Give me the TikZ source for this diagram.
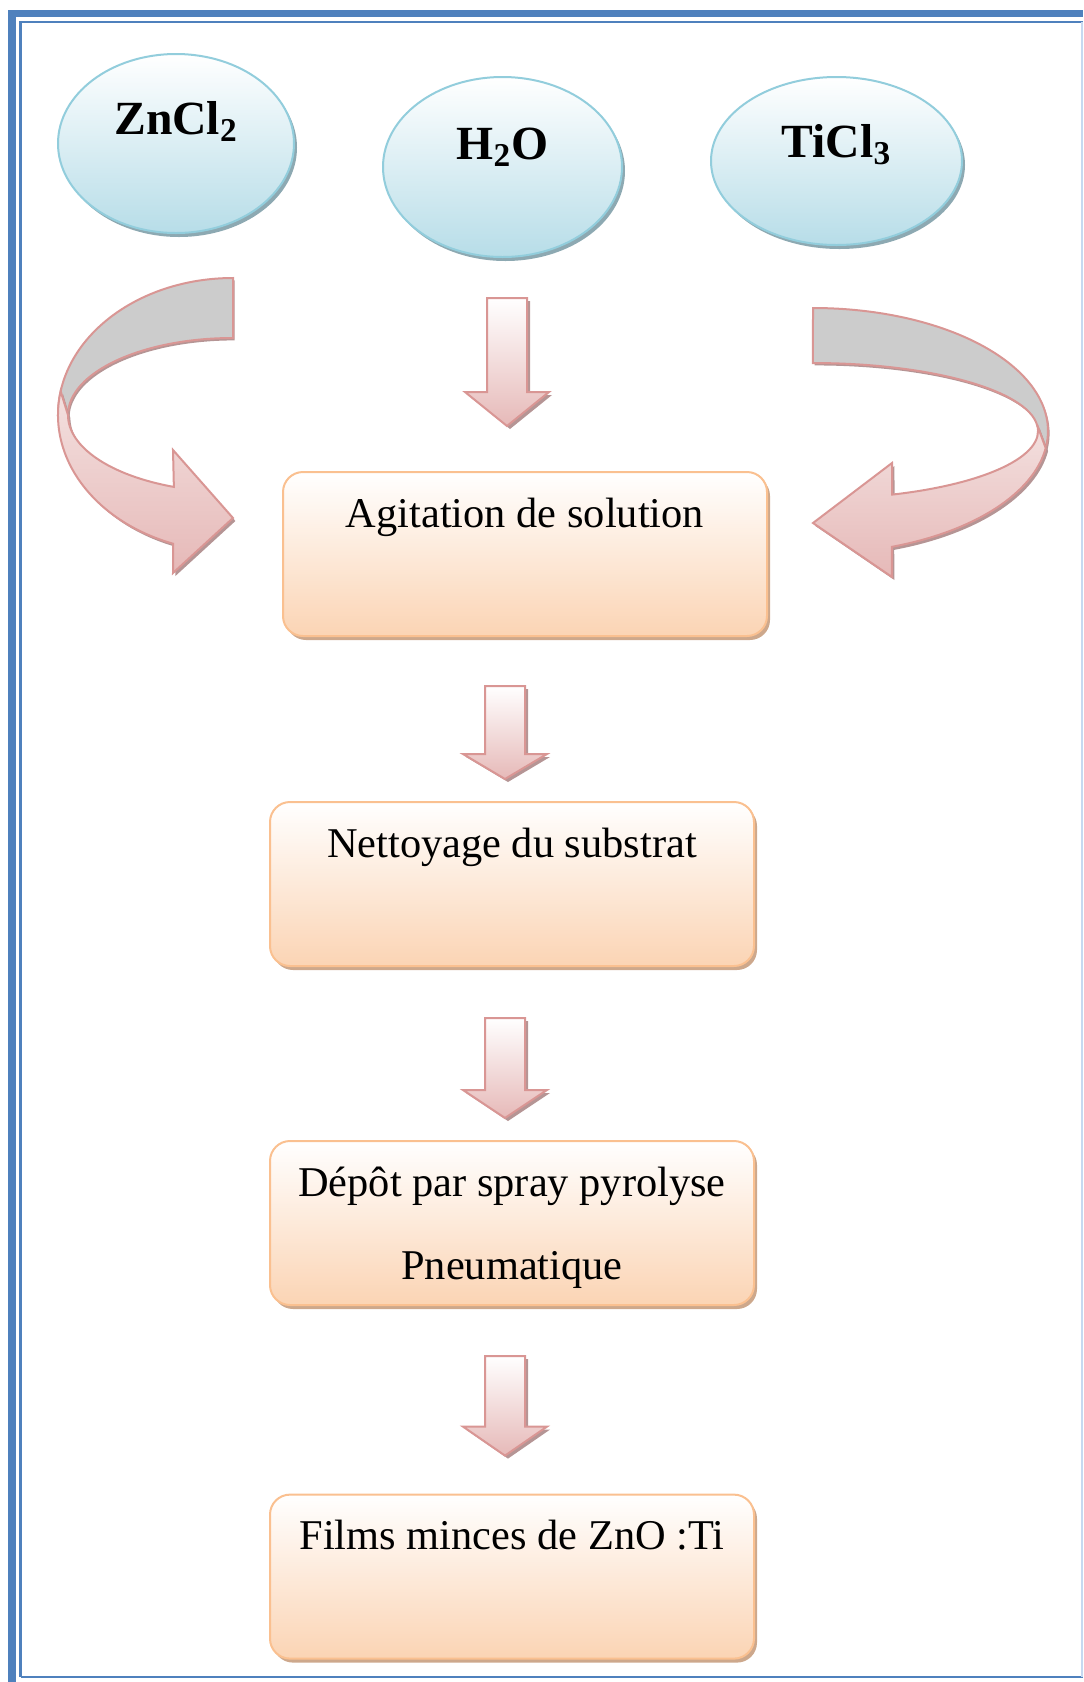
\documentclass[tikz,border=0pt]{standalone}
\usepackage{fontspec}
\setmainfont{Liberation Serif}
\usetikzlibrary{positioning, shapes.geometric, shadows, calc}
\definecolor{framebl}{HTML}{4F81BD}
\definecolor{framelt}{HTML}{C6D9F1}
\definecolor{ellline}{HTML}{92CDDC}
\definecolor{ellbot}{HTML}{B7DDE8}
\definecolor{ellshadow}{HTML}{8DA9B2}
\definecolor{boxline}{HTML}{FAC090}
\definecolor{boxbot}{HTML}{FBD4B4}
\definecolor{boxshadow}{HTML}{CDA88C}
\definecolor{arrline}{HTML}{D99694}
\definecolor{arrbot}{HTML}{E6B9B8}
\definecolor{arrshadow}{HTML}{B59595}
\definecolor{bandtop}{HTML}{F3E0DF}
\definecolor{bandgray}{HTML}{CCCCCC}
\tikzset{
  frameline/.style={draw=framebl,line width=3.75pt},
  framethin/.style={draw=framebl,line width=1.4pt},
  source/.style={ellipse,draw=ellline,line width=1pt,top color=white,bottom color=ellbot,inner sep=0pt,
    font=\fontsize{23.8}{28}\selectfont\bfseries,text height=16pt,text depth=25pt,
    drop shadow={shadow xshift=1.5pt,shadow yshift=-2pt,fill=ellshadow,opacity=1}},
  box/.style={rectangle,draw=boxline,line width=1pt,rounded corners=10pt,top color=white,bottom color=boxbot,
    minimum width=242pt,minimum height=82pt,inner sep=0pt,align=center,
    font=\fontsize{21.2}{41.5}\selectfont,text height=15pt,text depth=42pt,
    drop shadow={shadow xshift=1.5pt,shadow yshift=-2pt,fill=boxshadow,opacity=1}},
  blockdown/.style={draw=arrline,line width=1pt,top color=white,bottom color=arrbot,
    drop shadow={shadow xshift=1.5pt,shadow yshift=-1.5pt,fill=arrshadow,opacity=1},
    to path={let \p1=(\tikztostart), \p2=(\tikztotarget) in
      (\x1-10pt,\y1) -- (\x1+10pt,\y1) -- (\x1+10pt,\y2+#1) -- (\x1+21pt,\y2+#1) -- (\x1,\y2)
      -- (\x1-21pt,\y2+#1) -- (\x1-10pt,\y2+#1) -- cycle}},
  backband/.style={draw=arrline,line width=1pt,fill=bandgray,
    drop shadow={shadow xshift=0.8pt,shadow yshift=-1.2pt,fill=arrshadow,opacity=1}},
  frontband/.style={draw=arrline,line width=1pt,top color=bandtop,bottom color=arrbot,
    drop shadow={shadow xshift=1.2pt,shadow yshift=-1.5pt,fill=arrshadow,opacity=1}}
}

\begin{document}
\begin{tikzpicture}[x=0.5pt,y=-0.5pt]
\useasboundingbox (0,0) rectangle (1083,1682);
\draw[frameline] (12,1682) -- (12,13.5) -- (1083,13.5);
\draw[framethin] (20.5,1677) -- (20.5,22) -- (1083,22);
\draw[framethin] (20.5,1677) -- (1083,1677);
\draw[draw=framelt,line width=1pt] (1082,22) -- (1082,1677);

\node[source,minimum width=118pt,minimum height=89.5pt] (zncl) at (176,143.5) {ZnCl\textsubscript{2}};
\node[source,minimum width=119.5pt,minimum height=90pt,text depth=24pt] (hwater) at (502.5,167) {H\textsubscript{2}O};
\node[source,minimum width=125.5pt,minimum height=84pt,text depth=20pt] (ticl) at (836.5,161) {TiCl\textsubscript{3}};

\node[box] (agit) at (525,554) {Agitation de solution};
\node[box,below=82pt of agit,xshift=-6.5pt] (nett) {Nettoyage du substrat};
\node[box,below=86.5pt of nett,text height=58pt,text depth=2pt] (depot) {Dépôt par spray pyrolyse\\Pneumatique};
\node[box,below=93.8pt of depot] (films) {Films minces de ZnO :Ti};

\draw[backband] (233,278) arc[start angle=270,end angle=180,x radius=175,y radius=137]
  -- (68,415) arc[start angle=180,end angle=270,x radius=165,y radius=77] -- cycle;
\draw[frontband] (60.66,391.2) arc[start angle=190,end angle=110,x radius=175,y radius=137]
  -- (173,573) -- (233,518) -- (173,450)
  -- (173.87,486.9) arc[start angle=111,end angle=180,x radius=165,y radius=77] -- cycle;

\draw[backband] (813,308) arc[start angle=270,end angle=368,x radius=235,y radius=123]
  -- (1037.1,425.1) arc[start angle=355,end angle=270,x radius=225,y radius=68] -- cycle;
\draw[frontband] (1045.7,448.1) arc[start angle=8,end angle=70.4,x radius=235,y radius=123]
  -- (892,577) -- (813,523) -- (892,463)
  -- (892.2,494.6) arc[start angle=69.4,end angle=-5,x radius=225,y radius=68] -- cycle;

\draw[blockdown=17pt] ($(hwater.south)+(4.5,40)$) to ($(agit.north)+(0,-45)$);
\draw[blockdown=12.5pt] ($(agit.south)+(-20,49)$) to ($(nett.north)+(0,-22)$);
\draw[blockdown=14pt] ($(nett.south)+(-7,51)$) to ($(depot.north)+(0,-22)$);
\draw[blockdown=14.5pt] ($(depot.south)+(-7,50)$) to ($(films.north)+(0,-38)$);
\end{tikzpicture}
\end{document}
